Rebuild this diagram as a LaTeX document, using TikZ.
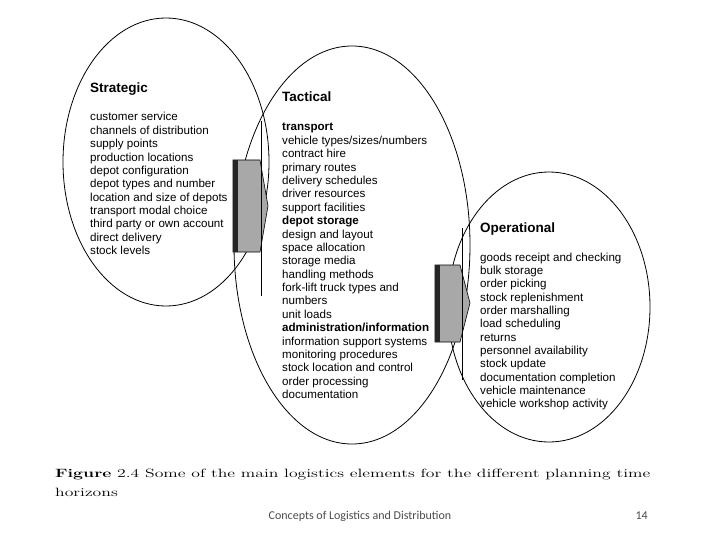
\documentclass[tikz,border=0pt]{standalone}
\usepackage{fontspec}
\usepackage{graphicx}
\usetikzlibrary{shapes.geometric}
\newfontfamily\diagfont{Liberation Sans}
\newfontfamily\footfont{Carlito}
\definecolor{arrgray}{RGB}{168,168,168}
\newsavebox\capbox
\newlength\capw
\begin{document}
\begin{tikzpicture}[x=1pt,y=-1pt,
  oval/.style={draw, ellipse, line width=0.8pt, inner sep=0pt},
  head/.style={anchor=base west, inner sep=0pt, font=\diagfont\bfseries\fontsize{13.5}{16}\selectfont},
  item/.style={anchor=base west, inner sep=0pt, font=\diagfont\fontsize{11.6}{13.4}\selectfont},
  arrowbody/.style={fill=arrgray, draw=black, line width=0.6pt},
  strip/.style={fill=black!85, draw=none},
  spike/.style={draw=black, line width=0.6pt},
  capt/.style={anchor=base west, inner sep=0pt},
  foot/.style={inner sep=0pt, text=black!70, font=\footfont\fontsize{12}{14}\selectfont}]

\useasboundingbox[fill=white] (0,0) rectangle (720,540);

% ovals
\node[oval, minimum width=206pt, minimum height=288pt] (strat) at (166,162) {};
\node[oval, minimum width=236pt, minimum height=398pt] (tact) at (352,245) {};
\node[oval, minimum width=202pt, minimum height=270pt] (oper) at (549,307) {};

% arrow strategic -> tactical
\draw[arrowbody] (233,160) -- (260,160) -- (268,206) -- (260,252) -- (233,252) -- cycle;
\fill[strip] (233,160) rectangle (237.5,252);
\draw[spike] (261,121) -- (261,296);

% arrow tactical -> operational
\draw[arrowbody] (435,265) -- (460,265) -- (470,303) -- (460,342) -- (435,342) -- cycle;
\fill[strip] (435,265) rectangle (440,342);
\draw[spike] (462,228) -- (462,380);

% headings
\node[head] (hs) at (90,93) {Strategic};
\node[head] (ht) at (282,102) {Tactical};
\node[head] (ho) at (480,233) {Operational};

% strategic items
\foreach \t [count=\i] in {customer service, channels of distribution, supply points,
  production locations, depot configuration, depot types and number,
  location and size of depots, transport modal choice, third party or own account,
  direct delivery, stock levels}
  \node[item] (s\i) at (90,{121+13.35*(\i-1)}) {\t};

% tactical items
\foreach \t [count=\i] in {{\textbf{transport}}, {vehicle types/sizes/numbers}, contract hire,
  primary routes, delivery schedules, driver resources, support facilities,
  {\textbf{depot storage}}, design and layout, space allocation, storage media,
  handling methods, fork-lift truck types and, numbers, unit loads,
  {\textbf{administration/information}}, information support systems,
  monitoring procedures, stock location and control, order processing, documentation}
  \node[item] (t\i) at (282,{131+13.38*(\i-1)}) {\t};

% operational items
\foreach \t [count=\i] in {goods receipt and checking, bulk storage, order picking,
  stock replenishment, order marshalling, load scheduling, returns,
  personnel availability, stock update, documentation completion,
  vehicle maintenance, vehicle workshop activity}
  \node[item] (o\i) at (480,{261+13.36*(\i-1)}) {\t};

% caption
\node[capt] (cap1) at (55,477) {\sbox\capbox{\fontsize{12}{14}\selectfont\textbf{Figure} 2.4 Some of the main logistics elements for the different planning time}\global\capw=\wd\capbox\resizebox{595pt}{\height}{\usebox\capbox}};
\pgfmathsetmacro\capscale{595/\capw}
\node[capt] (cap2) at (55,496) {\scalebox{\capscale}[1]{\fontsize{12}{14}\selectfont horizons}};

% footer
\node[foot, anchor=base] (footer) at (360,519) {Concepts of Logistics and Distribution};
\node[foot, anchor=base east] (page) at (648,519) {14};
\end{tikzpicture}
\end{document}
